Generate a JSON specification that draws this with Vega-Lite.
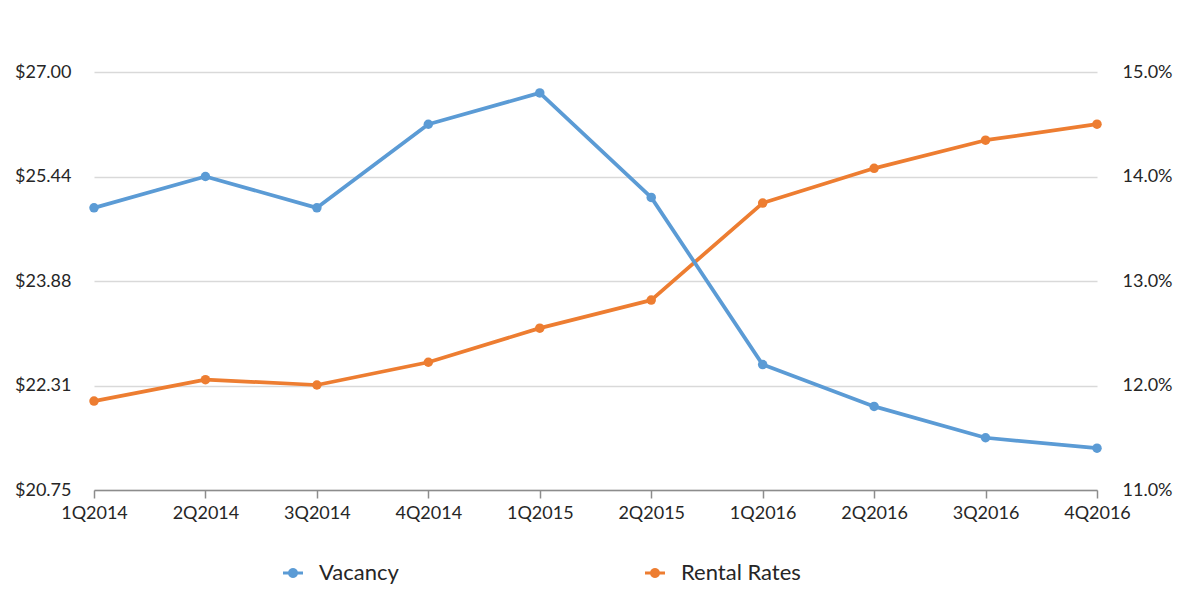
{
  "$schema": "https://vega.github.io/schema/vega-lite/v6.json",
  "width": 1003,
  "height": 418,
  "autosize": {"type": "none"},
  "padding": {"left": 94, "top": 72, "right": 83, "bottom": 101},
  "background": "white",
  "config": {
    "view": {"stroke": null},
    "font": "Lato",
    "axis": {"labelFont": "Lato", "labelColor": "#262626", "labelFontSize": 18}
  },
  "data": {
    "values": [
      {"quarter": "1Q2014", "series": "Rental Rates", "value": 22.08},
      {"quarter": "2Q2014", "series": "Rental Rates", "value": 22.40},
      {"quarter": "3Q2014", "series": "Rental Rates", "value": 22.32},
      {"quarter": "4Q2014", "series": "Rental Rates", "value": 22.66},
      {"quarter": "1Q2015", "series": "Rental Rates", "value": 23.17},
      {"quarter": "2Q2015", "series": "Rental Rates", "value": 23.59},
      {"quarter": "1Q2016", "series": "Rental Rates", "value": 25.04},
      {"quarter": "2Q2016", "series": "Rental Rates", "value": 25.56},
      {"quarter": "3Q2016", "series": "Rental Rates", "value": 25.98},
      {"quarter": "4Q2016", "series": "Rental Rates", "value": 26.22},
      {"quarter": "1Q2014", "series": "Vacancy", "value": 0.137},
      {"quarter": "2Q2014", "series": "Vacancy", "value": 0.140},
      {"quarter": "3Q2014", "series": "Vacancy", "value": 0.137},
      {"quarter": "4Q2014", "series": "Vacancy", "value": 0.145},
      {"quarter": "1Q2015", "series": "Vacancy", "value": 0.148},
      {"quarter": "2Q2015", "series": "Vacancy", "value": 0.138},
      {"quarter": "1Q2016", "series": "Vacancy", "value": 0.122},
      {"quarter": "2Q2016", "series": "Vacancy", "value": 0.118},
      {"quarter": "3Q2016", "series": "Vacancy", "value": 0.115},
      {"quarter": "4Q2016", "series": "Vacancy", "value": 0.114}
    ]
  },
  "encoding": {
    "x": {
      "field": "quarter",
      "type": "ordinal",
      "sort": null,
      "scale": {"type": "point", "padding": 0},
      "axis": {
        "title": null,
        "labelAngle": 0,
        "grid": false,
        "domainColor": "#8C8C8C",
        "domainWidth": 1.5,
        "tickColor": "#8C8C8C",
        "tickWidth": 1.5,
        "tickSize": 8,
        "labelPadding": 6,
        "labelFontSize": 18
      }
    },
    "color": {
      "field": "series",
      "type": "nominal",
      "scale": {"domain": ["Vacancy", "Rental Rates"], "range": ["#5B9BD5", "#ED7D31"]},
      "legend": {
        "title": null,
        "orient": "none",
        "legendX": 188,
        "legendY": 490,
        "padding": 0,
        "direction": "horizontal",
        "symbolType": "M-1,-0.15 L-0.477,-0.15 A0.5,0.5 0 0,1 0.477,-0.15 L1,-0.15 L1,0.15 L0.477,0.15 A0.5,0.5 0 0,1 -0.477,0.15 L-1,0.15 Z",
        "symbolSize": 400,
        "symbolStrokeWidth": 0,
        "labelFont": "Lato",
        "labelFontSize": 22,
        "labelColor": "#262626",
        "labelOffset": 15,
        "columnPadding": 205,
        "gridAlign": "all",
        "encode": {
          "symbols": {
            "update": {
              "fill": {"scale": "color", "field": "value"},
              "stroke": {"value": "transparent"},
              "opacity": {"value": 1}
            }
          }
        }
      }
    }
  },
  "layer": [
    {
      "transform": [{"filter": "datum.series === 'Rental Rates'"}],
      "mark": {"type": "line", "strokeWidth": 3.75, "strokeJoin": "round", "strokeCap": "round", "point": {"filled": true, "size": 90, "opacity": 1}},
      "encoding": {
        "y": {
          "field": "value",
          "type": "quantitative",
          "scale": {"domain": [20.75, 27], "nice": false, "zero": false},
          "axis": {
            "title": null,
            "orient": "left",
            "values": [20.75, 22.3125, 23.875, 25.4375, 27],
            "format": "$.2f",
            "domain": false,
            "ticks": false,
            "labelPadding": 23,
            "grid": true,
            "gridColor": "#D9D9D9",
            "gridWidth": 1.3
          }
        }
      }
    },
    {
      "transform": [{"filter": "datum.series === 'Vacancy'"}],
      "mark": {"type": "line", "strokeWidth": 3.75, "strokeJoin": "round", "strokeCap": "round", "point": {"filled": true, "size": 90, "opacity": 1}},
      "encoding": {
        "y": {
          "field": "value",
          "type": "quantitative",
          "scale": {"domain": [0.11, 0.15], "nice": false, "zero": false},
          "axis": {
            "title": null,
            "orient": "right",
            "values": [0.11, 0.12, 0.13, 0.14, 0.15],
            "format": ".1%",
            "domain": false,
            "ticks": false,
            "labelPadding": 25,
            "grid": false
          }
        }
      }
    }
  ],
  "resolve": {"scale": {"y": "independent"}}
}
